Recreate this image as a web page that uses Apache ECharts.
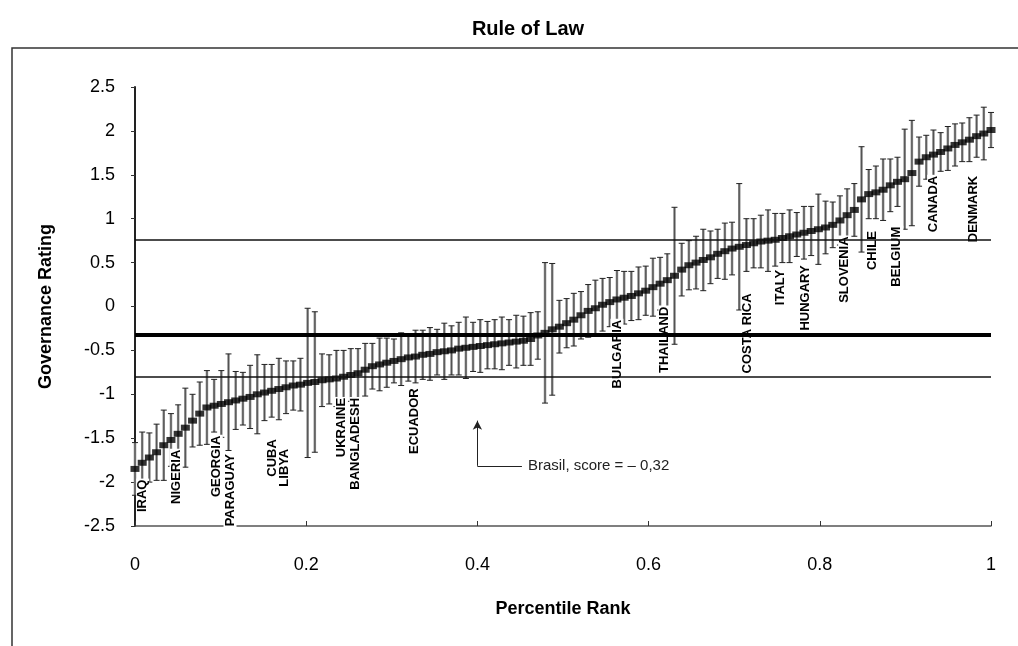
<!DOCTYPE html>
<html lang="en">
<head>
    <meta charset="UTF-8">
    <title>Rule of Law</title>
    <script src="https://cdn.jsdelivr.net/npm/echarts@6/dist/echarts.min.js"></script>
    <style>
        html, body { margin: 0; padding: 0; background: #fff; }
        #echarts_div { width: 1018px; height: 646px; }
    </style>
</head>
<body>
<div id="echarts_div"></div>
</body>
<script type="text/javascript">
	// governance estimate per country, sorted
	var estimates = [
		-1.85,-1.78,-1.72,-1.66,-1.58,-1.52,-1.45,-1.38,-1.30,-1.22,
		-1.15,-1.13,-1.11,-1.09,-1.07,-1.05,-1.03,-1.00,-0.98,-0.96,
		-0.94,-0.92,-0.90,-0.89,-0.87,-0.86,-0.84,-0.83,-0.82,-0.80,
		-0.78,-0.76,-0.72,-0.68,-0.66,-0.64,-0.62,-0.60,-0.58,-0.57,
		-0.55,-0.54,-0.52,-0.51,-0.50,-0.48,-0.47,-0.46,-0.45,-0.44,
		-0.43,-0.42,-0.41,-0.40,-0.39,-0.37,-0.33,-0.30,-0.26,-0.23,
		-0.19,-0.15,-0.10,-0.05,-0.02, 0.02, 0.05, 0.08, 0.10, 0.12,
		 0.15, 0.18, 0.22, 0.26, 0.30, 0.35, 0.42, 0.47, 0.50, 0.53,
		 0.56, 0.60, 0.63, 0.66, 0.68, 0.70, 0.72, 0.74, 0.75, 0.76,
		 0.78, 0.80, 0.82, 0.84, 0.86, 0.88, 0.90, 0.93, 0.98, 1.04,
		 1.10, 1.22, 1.28, 1.30, 1.33, 1.38, 1.42, 1.45, 1.52, 1.65,
		 1.70, 1.73, 1.76, 1.80, 1.84, 1.87, 1.90, 1.94, 1.97, 2.01
	];
	// half width of the error bar
	var errors = [
		0.30,0.35,0.28,0.32,0.40,0.30,0.33,0.45,0.30,0.36,
		0.42,0.30,0.38,0.55,0.33,0.30,0.36,0.45,0.32,0.30,
		0.35,0.30,0.28,0.30,0.85,0.80,0.30,0.28,0.32,0.30,
		0.30,0.28,0.30,0.26,0.30,0.28,0.25,0.30,0.27,0.30,
		0.28,0.30,0.26,0.32,0.28,0.30,0.35,0.28,0.30,0.27,
		0.28,0.30,0.26,0.30,0.28,0.30,0.27,0.80,0.75,0.30,
		0.28,0.30,0.27,0.30,0.32,0.30,0.28,0.33,0.30,0.28,
		0.30,0.28,0.33,0.30,0.30,0.78,0.30,0.28,0.30,0.35,
		0.30,0.28,0.32,0.30,0.72,0.30,0.28,0.30,0.35,0.30,
		0.28,0.30,0.25,0.30,0.28,0.40,0.30,0.26,0.28,0.30,
		0.30,0.60,0.28,0.30,0.35,0.30,0.28,0.57,0.60,0.28,
		0.25,0.28,0.22,0.25,0.24,0.22,0.25,0.24,0.30,0.20
	];
	// country labels: name, percentile rank, top of label (rating)
	var countryNames = ['IRAQ','NIGERIA','GEORGIA','PARAGUAY','CUBA','LIBYA','UKRAINE','BANGLADESH','ECUADOR',
		'BULGARIA','THAILAND','COSTA RICA','ITALY','HUNGARY','SLOVENIA','CHILE','BELGIUM','CANADA','DENMARK'];
	var countryRanks = [0.009,0.048,0.095,0.111,0.160,0.175,0.241,0.258,0.326,
		0.563,0.619,0.716,0.754,0.783,0.829,0.862,0.890,0.933,0.979];
	var countryTops = [-1.96,-1.62,-1.46,-1.67,-1.50,-1.61,-1.03,-1.03,-0.92,
		-0.14,0.01,0.16,0.43,0.48,0.81,0.87,0.92,1.50,1.50];
	var refLines = [0.76, -0.32, -0.80];
	var brasilScore = '-0,32';

	var font = '"Liberation Sans", Arial, sans-serif';
	var n = estimates.length;
	var points = [], bars = [], labels = [];
	for (var i = 0; i < n; i++) {
		var r = i / (n - 1);
		points.push([r, estimates[i]]);
		bars.push([r, estimates[i] - errors[i], estimates[i] + errors[i]]);
	}
	for (var j = 0; j < countryNames.length; j++) {
		labels.push([countryRanks[j], countryTops[j], countryNames[j]]);
	}

	var myChart = echarts.init(document.getElementById('echarts_div'));
	var option = {
		backgroundColor: '#fff',
		animation: false,
		title: {
			text: 'Rule of Law',
			left: 523, top: 14, textAlign: 'center',
			textStyle: { fontFamily: font, fontSize: 20, fontWeight: 'bold', color: '#000' }
		},
		graphic: [{
			type: 'polyline',
			shape: { points: [[12, 646], [12, 48], [1018, 48]] },
			style: { stroke: '#333', lineWidth: 1.5, fill: null }
		}],
		grid: { left: 135, right: 27, top: 87, bottom: 120 },
		xAxis: {
			type: 'value', min: 0, max: 1, interval: 0.2,
			name: 'Percentile Rank', nameLocation: 'middle', nameGap: 74,
			nameTextStyle: { fontFamily: font, fontSize: 18, fontWeight: 'bold', color: '#000' },
			axisLine: { onZero: false, lineStyle: { color: '#555', width: 1.5 } },
			axisTick: { inside: true, length: 5, lineStyle: { color: '#333' } },
			axisLabel: { margin: 30, fontFamily: font, fontSize: 18, color: '#000' },
			splitLine: { show: false }
		},
		yAxis: {
			type: 'value', min: -2.5, max: 2.5, interval: 0.5,
			name: 'Governance Rating', nameLocation: 'middle', nameGap: 80, nameRotate: 90,
			nameTextStyle: { fontFamily: font, fontSize: 18, fontWeight: 'bold', color: '#000' },
			axisLine: { show: true, onZero: false, lineStyle: { color: '#222', width: 2 } },
			axisTick: { show: true, length: 4, lineStyle: { color: '#333' } },
			axisLabel: { margin: 20, fontFamily: font, fontSize: 18, color: '#000' },
			splitLine: { show: false }
		},
		series: [
			{
				// error bars
				type: 'custom', z: 1,
				renderItem: function (params, api) {
					var x = api.value(0);
					var lo = api.coord([x, api.value(1)]);
					var hi = api.coord([x, api.value(2)]);
					return {
						type: 'group',
						children: [
							{ type: 'line', shape: { x1: hi[0], y1: hi[1], x2: lo[0], y2: lo[1] }, style: { stroke: '#8a8a8a', lineWidth: 2.5 } },
							{ type: 'line', shape: { x1: hi[0], y1: hi[1], x2: lo[0], y2: lo[1] }, style: { stroke: '#444', lineWidth: 0.8 } },
							{ type: 'line', shape: { x1: hi[0] - 3, y1: hi[1], x2: hi[0] + 3, y2: hi[1] }, style: { stroke: '#222', lineWidth: 1 } },
							{ type: 'line', shape: { x1: lo[0] - 3, y1: lo[1], x2: lo[0] + 3, y2: lo[1] }, style: { stroke: '#222', lineWidth: 1 } }
						]
					};
				},
				encode: { x: 0, y: [1, 2] },
				data: bars
			},
			{
				type: 'scatter', z: 2,
				symbol: 'rect', symbolSize: [9, 6],
				itemStyle: { color: '#000' },
				data: points
			},
			{
				// reference lines and Brasil note
				type: 'line', z: 3, data: [],
				markLine: {
					silent: true, symbol: 'none', animation: false,
					label: { show: false },
					data: [
						{ yAxis: refLines[0], lineStyle: { color: '#111', width: 1.5, type: 'solid' } },
						{ yAxis: refLines[1], lineStyle: { color: '#000', width: 4, type: 'solid' } },
						{ yAxis: refLines[2], lineStyle: { color: '#111', width: 1.5, type: 'solid' } },
						[
							{ coord: [0.4, -1.815], symbol: 'none' },
							{ coord: [0.4, -1.3], symbol: 'arrow', symbolSize: [7, 9], lineStyle: { color: '#222', width: 1, type: 'solid' } }
						],
						[
							{ coord: [0.4, -1.815], symbol: 'none' },
							{ coord: [0.452, -1.815], symbol: 'none', lineStyle: { color: '#222', width: 1, type: 'solid' },
								label: { show: true, position: 'end', distance: 6, formatter: 'Brasil, score = ' + brasilScore.replace('-', '\u2013 '),
									fontFamily: font, fontSize: 15, color: '#222' } }
						]
					]
				}
			},
			{
				// country names
				type: 'custom', z: 4,
				renderItem: function (params, api) {
					var p = api.coord([api.value(0), api.value(1)]);
					return {
						type: 'text', x: p[0], y: p[1], rotation: Math.PI / 2,
						style: {
							text: labels[params.dataIndex][2],
							font: 'bold 13px ' + font, fill: '#000',
							align: 'right', verticalAlign: 'middle',
							backgroundColor: '#fff', padding: [0, 1]
						}
					};
				},
				encode: { x: 0, y: 1 },
				data: labels
			}
		]
	};
	myChart.setOption(option);
</script>
</html>
